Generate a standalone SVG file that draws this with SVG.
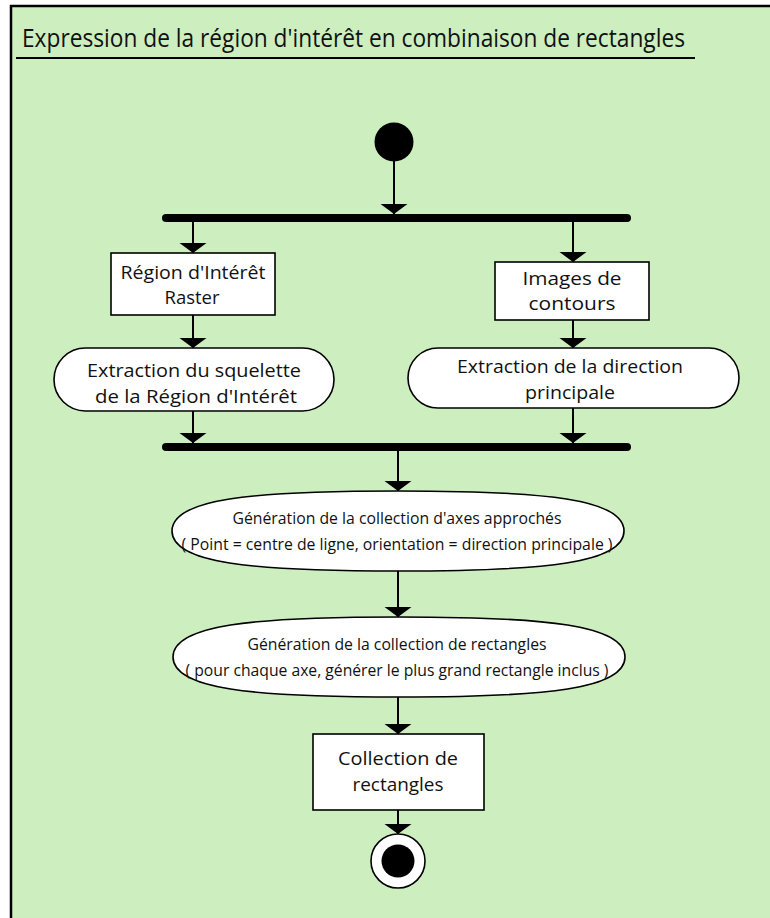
<svg xmlns="http://www.w3.org/2000/svg" width="770" height="918" viewBox="0 0 770 918">
  <style>
    .frame { fill: #cdeebf; stroke: #000; stroke-width: 2.5; }
    .act { fill: #fff; stroke: #000; stroke-width: 1.6; }
    .bar { stroke: #000; stroke-width: 8; stroke-linecap: round; }
    .flow { fill: none; stroke: #000; stroke-width: 2; marker-end: url(#head); }
    text { font-family: "Open Sans", "Noto Sans", "Liberation Sans", sans-serif; fill: #111; text-anchor: middle; }
    .t18 { font-size: 18.5px; }
    .t15 { font-size: 17px; }
  </style>
  <defs>
    <!-- flat filled arrowhead, 27 wide and 10 deep -->
    <marker id="head" markerUnits="userSpaceOnUse" markerWidth="11" markerHeight="28" refX="10" refY="13.5" orient="auto">
      <path d="M0,0 L10,13.5 L0,27 Z" fill="#000"/>
    </marker>
  </defs>

  <!-- activity frame -->
  <rect class="frame" x="11" y="6" width="800" height="960"/>
  <text x="22" y="47" style="font-size:25px;text-anchor:start" textLength="663" lengthAdjust="spacingAndGlyphs">Expression de la région d'intérêt en combinaison de rectangles</text>
  <line x1="16" y1="58" x2="695" y2="58" stroke="#000" stroke-width="2"/>

  <!-- connectors -->
  <g id="connectors">
    <line class="flow" x1="394" y1="160" x2="394" y2="214"/>
    <line class="flow" x1="193" y1="222" x2="193" y2="253"/>
    <line class="flow" x1="573" y1="222" x2="573" y2="262"/>
    <line class="flow" x1="193" y1="315" x2="193" y2="348"/>
    <line class="flow" x1="573" y1="320" x2="573" y2="348"/>
    <line class="flow" x1="193" y1="411" x2="193" y2="443"/>
    <line class="flow" x1="573" y1="408" x2="573" y2="443"/>
    <line class="flow" x1="398" y1="451" x2="398" y2="491"/>
    <line class="flow" x1="398" y1="571" x2="398" y2="617"/>
    <line class="flow" x1="398" y1="697" x2="398" y2="734"/>
    <line class="flow" x1="398" y1="810" x2="398" y2="834"/>
  </g>

  <g id="start">
    <circle cx="394" cy="142" r="19.5" fill="#000"/>
  </g>

  <g id="fork">
    <line class="bar" x1="166" y1="218" x2="627" y2="218"/>
  </g>

  <g id="roi-raster">
    <rect class="act" x="111" y="253" width="164" height="62"/>
    <text class="t18" x="193" y="279" textLength="145" lengthAdjust="spacingAndGlyphs">Région d'Intérêt</text>
    <text class="t18" x="192" y="304" textLength="55" lengthAdjust="spacingAndGlyphs">Raster</text>
  </g>

  <g id="contour-images">
    <rect class="act" x="495" y="262" width="154" height="58"/>
    <text class="t18" x="572" y="285" textLength="99" lengthAdjust="spacingAndGlyphs">Images de</text>
    <text class="t18" x="572" y="310" textLength="87" lengthAdjust="spacingAndGlyphs">contours</text>
  </g>

  <g id="skeleton">
    <rect class="act" x="54" y="348" width="280" height="63" rx="31.5" ry="31.5"/>
    <text class="t18" x="194" y="377" textLength="214" lengthAdjust="spacingAndGlyphs">Extraction du squelette</text>
    <text class="t18" x="196" y="403" textLength="202" lengthAdjust="spacingAndGlyphs">de la Région d'Intérêt</text>
  </g>

  <g id="main-direction">
    <rect class="act" x="408" y="348" width="331" height="60" rx="30" ry="30"/>
    <text class="t18" x="570" y="373" textLength="226" lengthAdjust="spacingAndGlyphs">Extraction de la direction</text>
    <text class="t18" x="570" y="399" textLength="90" lengthAdjust="spacingAndGlyphs">principale</text>
  </g>

  <g id="join">
    <line class="bar" x1="166" y1="447" x2="627" y2="447"/>
  </g>

  <g id="axes">
    <path class="act" d="M172,531 C172,499 250,491 398,491 C546,491 624,499 624,531 C624,563 546,571 398,571 C250,571 172,563 172,531 Z"/>
    <text class="t15" x="397" y="524" textLength="329" lengthAdjust="spacingAndGlyphs">Génération de la collection d'axes approchés</text>
    <text class="t15" x="397" y="550" textLength="431" lengthAdjust="spacingAndGlyphs">( Point = centre de ligne, orientation = direction principale  )</text>
  </g>

  <g id="rectangles-gen">
    <path class="act" d="M173,657 C173,625 251,617 399,617 C547,617 625,625 625,657 C625,689 547,697 399,697 C251,697 173,689 173,657 Z"/>
    <text class="t15" x="397" y="650" textLength="299" lengthAdjust="spacingAndGlyphs">Génération de la collection de rectangles</text>
    <text class="t15" x="397" y="676" textLength="423" lengthAdjust="spacingAndGlyphs">( pour chaque axe, générer le plus grand rectangle inclus )</text>
  </g>

  <g id="rectangle-collection">
    <rect class="act" x="313" y="734" width="171" height="76"/>
    <text class="t18" x="398" y="765" textLength="120" lengthAdjust="spacingAndGlyphs">Collection de</text>
    <text class="t18" x="398" y="791" textLength="91" lengthAdjust="spacingAndGlyphs">rectangles</text>
  </g>

  <g id="end">
    <circle cx="398" cy="861" r="27" fill="#fff" stroke="#000" stroke-width="1.6"/>
    <circle cx="398" cy="861" r="16.5" fill="#000"/>
  </g>
</svg>
